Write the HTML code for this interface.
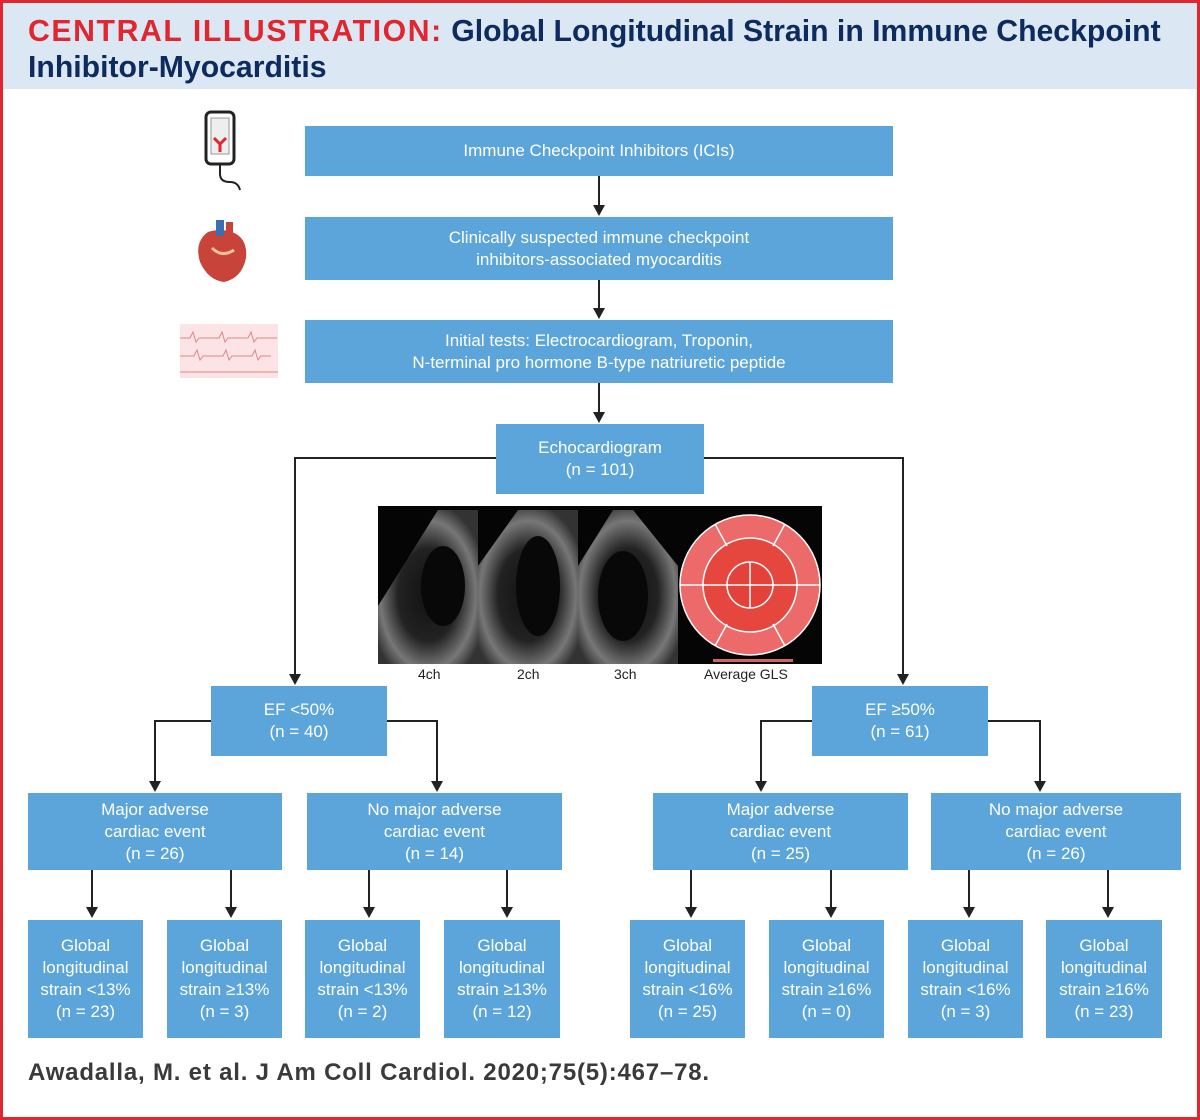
<!DOCTYPE html>
<html><head><meta charset="utf-8"><style>
body{margin:0;width:1200px;height:1120px;background:#fff;position:relative;overflow:hidden;font-family:"Liberation Sans",sans-serif}
.frame{position:absolute;left:0;top:0;width:1194px;height:1114px;border:3px solid #e0262e}
.hdr{position:absolute;left:3px;top:3px;width:1194px;height:86px;background:#dce7f4}
.t{position:absolute;left:28px;font-weight:bold;font-size:30.2px;color:#0d2b5c;white-space:nowrap}
.b{position:absolute;background:#5ca5da;color:#fff;font-size:17px;display:flex;align-items:center;justify-content:center;text-align:center;line-height:22px}
.l{position:absolute;background:#222}
.v{position:absolute;width:2px;background:#222}
.a{position:absolute;width:0;height:0;border-left:6px solid transparent;border-right:6px solid transparent;border-top:11px solid #222}
.lab{position:absolute;top:666px;font-size:14px;color:#222}
</style></head><body>
<div class="frame"></div>
<div class="hdr"></div>
<div class="t" style="top:15px"><span style="color:#e0262e;letter-spacing:1.6px">CENTRAL ILLUSTRATION:</span> Global Longitudinal Strain in Immune Checkpoint</div>
<div class="t" style="top:51px">Inhibitor-Myocarditis</div>

<svg style="position:absolute;left:200px;top:108px" width="50" height="85"><rect x="6" y="4" width="28" height="52" rx="5" fill="#fff" stroke="#222" stroke-width="3"/><rect x="11" y="10" width="18" height="36" fill="#eee" stroke="#999"/><path d="M14 30 l6 6 l6 -6 M20 36 v8" stroke="#e0262e" stroke-width="3" fill="none"/><path d="M20 56 v10 q0 8 10 8 q8 0 10 8" stroke="#222" stroke-width="2" fill="none"/></svg>
<svg style="position:absolute;left:190px;top:218px" width="66" height="66"><path d="M18 14 q-14 10 -8 30 q8 18 24 20 q18 -4 22 -24 q2 -20 -14 -26 q-12 -4 -24 0z" fill="#c8443a"/><rect x="26" y="2" width="8" height="16" fill="#3d6fb0"/><rect x="36" y="4" width="7" height="14" fill="#c8443a"/><path d="M22 30 q10 10 22 2" stroke="#f0c0a0" stroke-width="3" fill="none"/></svg>
<svg style="position:absolute;left:180px;top:324px" width="98" height="54"><rect width="98" height="54" fill="#fbe3e6"/><path d="M0 14 h10 l3 -6 l3 10 l3 -4 h20 l3 -6 l3 10 l3 -4 h20 l3 -6 l3 10 l3 -4 h20 M0 32 h14 l3 -6 l3 10 l3 -4 h20 l3 -6 l3 10 l3 -4 h20 l3 -6 l3 10 l3 -4 h10 M0 48 h98" stroke="#d88" stroke-width="1" fill="none"/></svg>

<div class="b" style="left:305px;top:126px;width:588px;height:50px">Immune Checkpoint Inhibitors (ICIs)</div>
<div class="v" style="left:598px;top:176px;height:30px"></div><div class="a" style="left:593px;top:205px"></div>
<div class="b" style="left:305px;top:217px;width:588px;height:63px">Clinically suspected immune checkpoint<br>inhibitors-associated myocarditis</div>
<div class="v" style="left:598px;top:280px;height:29px"></div><div class="a" style="left:593px;top:308px"></div>
<div class="b" style="left:305px;top:320px;width:588px;height:63px">Initial tests: Electrocardiogram, Troponin,<br>N-terminal pro hormone B-type natriuretic peptide</div>
<div class="v" style="left:598px;top:383px;height:30px"></div><div class="a" style="left:593px;top:412px"></div>
<div class="b" style="left:496px;top:424px;width:208px;height:70px">Echocardiogram<br>(n = 101)</div>

<div class="l" style="left:294px;top:457px;width:202px;height:2px"></div>
<div class="v" style="left:294px;top:457px;height:218px"></div><div class="a" style="left:289px;top:674px"></div>
<div class="l" style="left:704px;top:457px;width:200px;height:2px"></div>
<div class="v" style="left:902px;top:457px;height:218px"></div><div class="a" style="left:897px;top:674px"></div>

<svg style="position:absolute;left:378px;top:506px" width="444" height="158">
<rect width="444" height="158" fill="#050505"/>
<defs><radialGradient id="g" cx="50%" cy="55%" r="60%"><stop offset="0" stop-color="#111"/><stop offset="0.5" stop-color="#222"/><stop offset="0.8" stop-color="#777"/><stop offset="1" stop-color="#333"/></radialGradient></defs>
<polygon points="60,4 100,4 100,158 0,158 0,100" fill="url(#g)"/>
<polygon points="140,4 200,4 200,158 100,158 100,60" fill="url(#g)"/>
<polygon points="235,4 255,4 300,60 300,158 200,158 200,60" fill="url(#g)"/>
<ellipse cx="65" cy="80" rx="22" ry="40" fill="#080808"/><ellipse cx="160" cy="80" rx="22" ry="50" fill="#080808"/><ellipse cx="245" cy="90" rx="25" ry="45" fill="#080808"/>
<circle cx="372" cy="79" r="70" fill="#ec6a6a" stroke="#fff" stroke-width="1.5"/>
<circle cx="372" cy="79" r="47" fill="#e5473f" stroke="#fff" stroke-width="1.5"/>
<circle cx="372" cy="79" r="23" fill="#e4413a" stroke="#fff" stroke-width="1.5"/>
<path d="M302 79 h140 M372 56 v46 M349 79 h46 M337 18 l12 22 M407 18 l-12 22 M337 140 l12 -22 M407 140 l-12 -22" stroke="#fff" stroke-width="1.5"/>
<rect x="335" y="153" width="80" height="3" fill="#c66"/>
</svg>
<div class="lab" style="left:418px">4ch</div><div class="lab" style="left:517px">2ch</div><div class="lab" style="left:614px">3ch</div><div class="lab" style="left:704px">Average GLS</div>

<div class="b" style="left:211px;top:686px;width:176px;height:70px">EF &lt;50%<br>(n = 40)</div>
<div class="b" style="left:812px;top:686px;width:176px;height:70px">EF ≥50%<br>(n = 61)</div>

<div class="l" style="left:154px;top:720px;width:57px;height:2px"></div><div class="v" style="left:154px;top:720px;height:62px"></div><div class="a" style="left:149px;top:781px"></div>
<div class="l" style="left:387px;top:720px;width:51px;height:2px"></div><div class="v" style="left:436px;top:720px;height:62px"></div><div class="a" style="left:431px;top:781px"></div>
<div class="l" style="left:760px;top:720px;width:52px;height:2px"></div><div class="v" style="left:760px;top:720px;height:62px"></div><div class="a" style="left:755px;top:781px"></div>
<div class="l" style="left:988px;top:720px;width:52px;height:2px"></div><div class="v" style="left:1039px;top:720px;height:62px"></div><div class="a" style="left:1034px;top:781px"></div>

<div class="b" style="left:28px;top:793px;width:254px;height:77px">Major adverse<br>cardiac event<br>(n = 26)</div>
<div class="b" style="left:307px;top:793px;width:255px;height:77px">No major adverse<br>cardiac event<br>(n = 14)</div>
<div class="b" style="left:653px;top:793px;width:255px;height:77px">Major adverse<br>cardiac event<br>(n = 25)</div>
<div class="b" style="left:931px;top:793px;width:250px;height:77px">No major adverse<br>cardiac event<br>(n = 26)</div>

<div class="v" style="left:91px;top:870px;height:38px"></div><div class="a" style="left:86px;top:907px"></div>
<div class="v" style="left:230px;top:870px;height:38px"></div><div class="a" style="left:225px;top:907px"></div>
<div class="v" style="left:368px;top:870px;height:38px"></div><div class="a" style="left:363px;top:907px"></div>
<div class="v" style="left:506px;top:870px;height:38px"></div><div class="a" style="left:501px;top:907px"></div>
<div class="v" style="left:690px;top:870px;height:38px"></div><div class="a" style="left:685px;top:907px"></div>
<div class="v" style="left:830px;top:870px;height:38px"></div><div class="a" style="left:825px;top:907px"></div>
<div class="v" style="left:968px;top:870px;height:38px"></div><div class="a" style="left:963px;top:907px"></div>
<div class="v" style="left:1107px;top:870px;height:38px"></div><div class="a" style="left:1102px;top:907px"></div>

<div class="b" style="left:28px;top:920px;width:115px;height:118px">Global<br>longitudinal<br>strain &lt;13%<br>(n = 23)</div>
<div class="b" style="left:167px;top:920px;width:115px;height:118px">Global<br>longitudinal<br>strain ≥13%<br>(n = 3)</div>
<div class="b" style="left:305px;top:920px;width:115px;height:118px">Global<br>longitudinal<br>strain &lt;13%<br>(n = 2)</div>
<div class="b" style="left:444px;top:920px;width:116px;height:118px">Global<br>longitudinal<br>strain ≥13%<br>(n = 12)</div>
<div class="b" style="left:630px;top:920px;width:115px;height:118px">Global<br>longitudinal<br>strain &lt;16%<br>(n = 25)</div>
<div class="b" style="left:769px;top:920px;width:115px;height:118px">Global<br>longitudinal<br>strain ≥16%<br>(n = 0)</div>
<div class="b" style="left:908px;top:920px;width:115px;height:118px">Global<br>longitudinal<br>strain &lt;16%<br>(n = 3)</div>
<div class="b" style="left:1046px;top:920px;width:116px;height:118px">Global<br>longitudinal<br>strain ≥16%<br>(n = 23)</div>

<div style="position:absolute;left:28px;top:1059px;font-size:24px;font-weight:bold;letter-spacing:0.8px;color:#3a3a3a;white-space:nowrap">Awadalla, M. et al. J Am Coll Cardiol. 2020;75(5):467–78.</div>
</body></html>
